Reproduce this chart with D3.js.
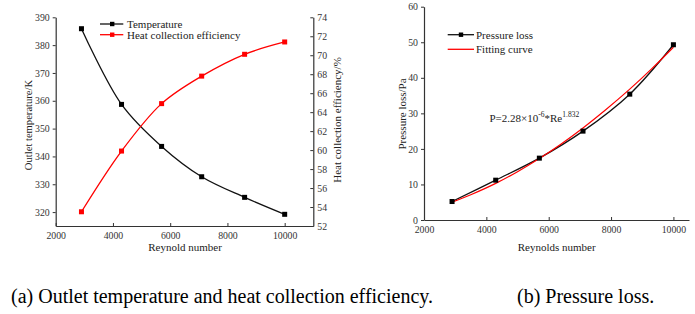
<!DOCTYPE html>
<html><head><meta charset="utf-8">
<script src="https://cdn.jsdelivr.net/npm/d3@7"></script>
<style>body{margin:0;background:#fff;}</style></head>
<body><svg id="c" width="695" height="314" font-family="Liberation Serif"></svg>
<script>
// ---- data ----
const reynolds = [2900, 4300, 5700, 7100, 8600, 10000];
const temperature = [385.9, 358.7, 343.6, 332.7, 325.3, 319.2];
const efficiency = [53.5, 59.9, 64.9, 67.8, 70.1, 71.4];
const pressureLoss = [5.2, 11.2, 17.4, 25.0, 35.4, 49.3];
const fitRe = [2900, 3500, 4300, 5000, 5700, 6400, 7100, 7800, 8600, 9300, 10000];
const fitP = [5.0, 7.1, 10.3, 13.6, 17.3, 21.4, 25.9, 30.8, 36.8, 42.5, 48.6];
const xTicks = [2000, 4000, 6000, 8000, 10000];
const tempTicks = [320, 330, 340, 350, 360, 370, 380, 390];
const effTicks = [52, 54, 56, 58, 60, 62, 64, 66, 68, 70, 72, 74];
const pTicks = [0, 10, 20, 30, 40, 50, 60];
const legendA = ["Temperature", "Heat collection efficiency"];
const legendB = ["Pressure loss", "Fitting curve"];
const captions = ["(a) Outlet temperature and heat collection efficiency.", "(b) Pressure loss."];

const FONT = "Liberation Serif";
const svg = d3.select("#c");
svg.append("rect").attr("width",695).attr("height",314).attr("fill","#fff");
const AX = "#333";
const fmt = d3.format("d");

function styleAxis(g){
  g.attr("font-family", FONT).attr("font-size", 9.8);
  g.select(".domain").attr("stroke",AX).attr("stroke-width",1.2);
  g.selectAll(".tick line").attr("stroke",AX).attr("stroke-width",1);
  g.selectAll(".tick text").attr("fill","#333");
}
function squares(sel, data, x, y, color, size){
  sel.selectAll(null).data(data).enter().append("rect")
    .attr("x",d=>x(d)-size/2).attr("y",d=>y(d)-size/2)
    .attr("width",size).attr("height",size).attr("fill",color);
}
function txt(x,y,s,size){
  return svg.append("text").attr("x",x).attr("y",y).attr("font-family",FONT).attr("font-size",size).attr("fill","#222").text(s);
}

// ---------- Chart (a) ----------
const xa = d3.scaleLinear().domain([2000, 11000]).range([55.7, 313.3]);
const ya = d3.scaleLinear().domain([315, 390]).range([226, 17.3]);
const ya2 = d3.scaleLinear().domain([52, 74]).range([226, 17.3]);

const gxa = svg.append("g").attr("transform","translate(0,226)")
  .call(d3.axisBottom(xa).tickValues(xTicks).tickFormat(fmt).tickSizeInner(-3).tickSizeOuter(0).tickPadding(6));
styleAxis(gxa);
const gya = svg.append("g").attr("transform","translate(55.7,0)")
  .call(d3.axisLeft(ya).tickValues(tempTicks).tickFormat(fmt).tickSizeInner(3).tickSizeOuter(0).tickPadding(3));
styleAxis(gya);
const gya2 = svg.append("g").attr("transform","translate(313.3,0)")
  .call(d3.axisRight(ya2).tickValues(effTicks).tickFormat(fmt).tickSizeInner(-3).tickSizeOuter(0).tickPadding(4));
styleAxis(gya2);

const la = d3.line().curve(d3.curveCatmullRom.alpha(0.5));
svg.append("path").attr("d", la(reynolds.map((r,i)=>[xa(r), ya(temperature[i])])))
  .attr("fill","none").attr("stroke","#111").attr("stroke-width",1.3);
svg.append("path").attr("d", la(reynolds.map((r,i)=>[xa(r), ya2(efficiency[i])])))
  .attr("fill","none").attr("stroke","#ff0000").attr("stroke-width",1.3);
const ia = d3.range(reynolds.length);
squares(svg, ia, i=>xa(reynolds[i]), i=>ya(temperature[i]), "#000", 5);
squares(svg, ia, i=>xa(reynolds[i]), i=>ya2(efficiency[i]), "#ff0000", 5);

// legend a
[[legendA[0],"#111",24],[legendA[1],"#ff0000",34.7]].forEach(([t,c,y])=>{
  svg.append("line").attr("x1",100).attr("x2",123.3).attr("y1",y).attr("y2",y).attr("stroke",c).attr("stroke-width",1.3);
  svg.append("rect").attr("x",110).attr("y",y-2.2).attr("width",4.4).attr("height",4.4).attr("fill",c==="#111"?"#000":c);
  txt(127,y,t,11).attr("dy","0.35em");
});

txt(185,251,"Reynold number",11).attr("text-anchor","middle");
svg.append("text").attr("transform","translate(28.5,125) rotate(-90)").attr("dy","0.35em").attr("font-family",FONT)
  .attr("text-anchor","middle").attr("font-size",10.6).attr("fill","#222").text("Outlet temperature/K");
svg.append("text").attr("transform","translate(337,120) rotate(-90)").attr("dy","0.35em").attr("font-family",FONT)
  .attr("text-anchor","middle").attr("font-size",11).attr("fill","#222").text("Heat collection efficiency/%");

// ---------- Chart (b) ----------
const xb = d3.scaleLinear().domain([2000, 10500]).range([424, 689]);
const yb = d3.scaleLinear().domain([0, 60]).range([220, 6.7]);
const gxb = svg.append("g").attr("transform","translate(0,220)")
  .call(d3.axisBottom(xb).tickValues(xTicks).tickFormat(fmt).tickSizeInner(-3).tickSizeOuter(0).tickPadding(6));
styleAxis(gxb);
const gyb = svg.append("g").attr("transform","translate(424,0)")
  .call(d3.axisLeft(yb).tickValues(pTicks).tickFormat(fmt).tickSizeInner(3).tickSizeOuter(0).tickPadding(3));
styleAxis(gyb);

svg.append("path").attr("d", la(reynolds.map((r,i)=>[xb(r), yb(pressureLoss[i])])))
  .attr("fill","none").attr("stroke","#111").attr("stroke-width",1.3);
svg.append("path").attr("d", la(fitRe.map((r,i)=>[xb(r), yb(fitP[i])])))
  .attr("fill","none").attr("stroke","#ff0000").attr("stroke-width",1.2);
squares(svg, ia, i=>xb(reynolds[i]), i=>yb(pressureLoss[i]), "#000", 5);

[[legendB[0],"#111",34.7,true],[legendB[1],"#ff0000",49.3,false]].forEach(([t,c,y,m])=>{
  svg.append("line").attr("x1",447.7).attr("x2",474).attr("y1",y).attr("y2",y).attr("stroke",c).attr("stroke-width",1.3);
  if(m) svg.append("rect").attr("x",458.8).attr("y",y-2.2).attr("width",4.4).attr("height",4.4).attr("fill","#000");
  txt(476,y,t,11).attr("dy","0.35em");
});

const eq = txt(489.5,121.5,null,11);
eq.append("tspan").text("P=2.28×10");
eq.append("tspan").attr("dy",-4.5).attr("font-size",7.5).text("-6");
eq.append("tspan").attr("dy",4.5).text("*Re");
eq.append("tspan").attr("dy",-4.5).attr("font-size",7.5).text("1.832");

txt(556.7,251,"Reynolds number",11).attr("text-anchor","middle");
svg.append("text").attr("transform","translate(401.7,114) rotate(-90)").attr("dy","0.35em").attr("font-family",FONT)
  .attr("text-anchor","middle").attr("font-size",11).attr("fill","#222").text("Pressure loss/Pa");

// captions
txt(11,303,captions[0],20).attr("fill","#000");
txt(517,303,captions[1],20).attr("fill","#000");
</script></body></html>
